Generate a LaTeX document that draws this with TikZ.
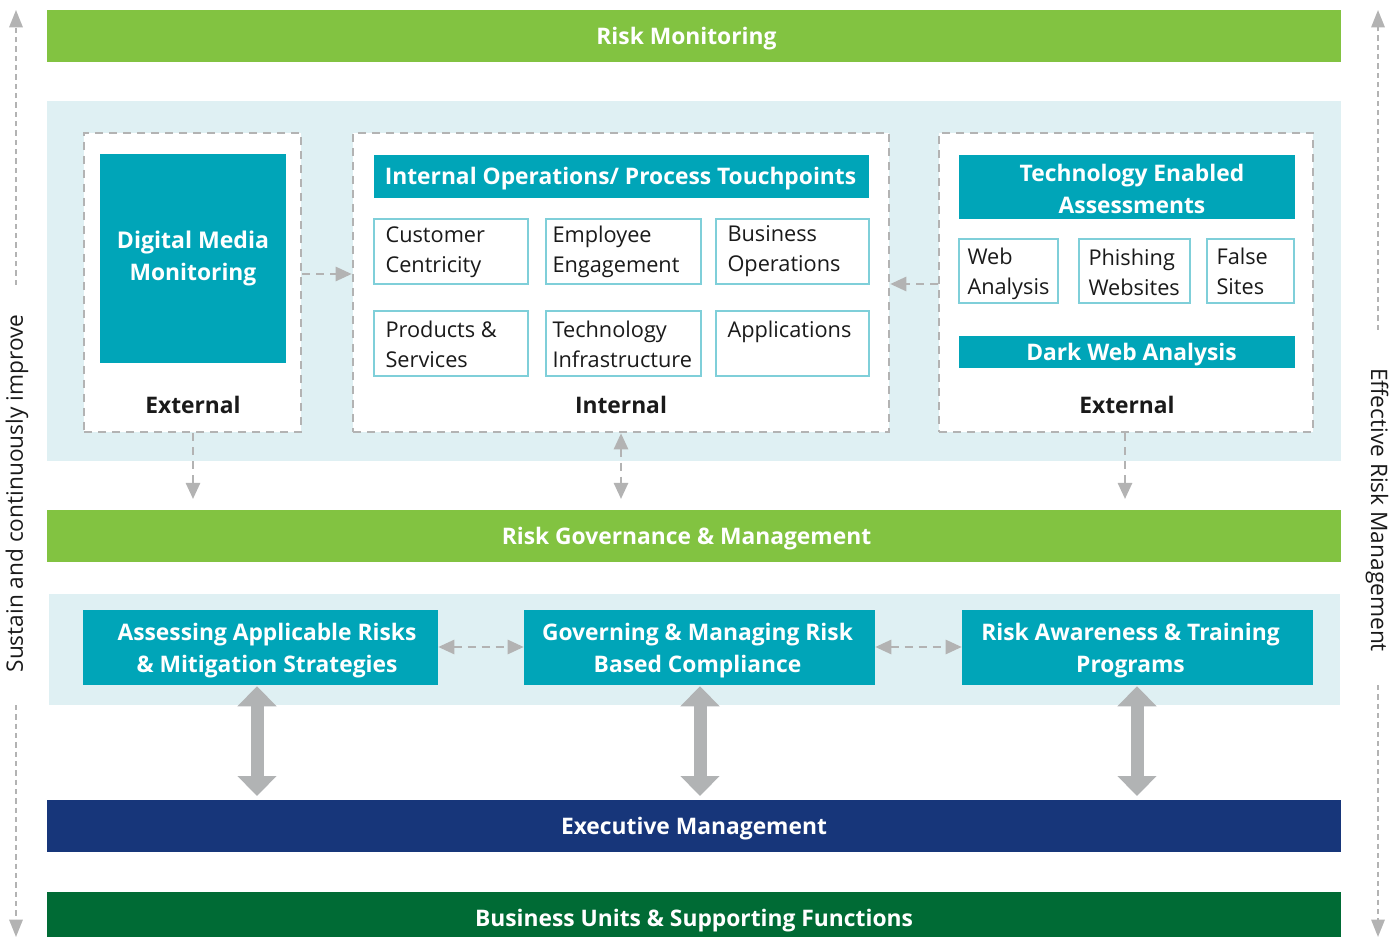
\documentclass[tikz,border=0pt]{standalone}
\usepackage{fontspec}
\setmainfont{Open Sans}
\usetikzlibrary{arrows.meta}
\definecolor{rgreen}{HTML}{82C341}
\definecolor{tealc}{HTML}{00A5B8}
\definecolor{panelc}{HTML}{DFF0F3}
\definecolor{navyc}{HTML}{17367A}
\definecolor{dgreen}{HTML}{006B35}
\definecolor{dgray}{HTML}{B3B3B3}
\definecolor{bgray}{HTML}{B1B3B4}
\definecolor{lteal}{HTML}{7FCFD9}
\definecolor{txt}{HTML}{1A1A1A}
% #1 name, #2-#5 box corners in px, #6 style, #7 text, #8 text offset (dx,dy) in px
\newcommand\mkbox[8]{\node[#6, inner sep=0pt, minimum width={(#4-#2)*0.75pt}, minimum height={(#5-#3)*0.75pt}] (#1) at ({(#2+#4)/2},{(#3+#5)/2}) {};
  \node[#6, fill=none, draw=none, inner sep=0pt] (#1t) at ([shift={#8}]#1.center) {#7};}
\newcommand\hfnt{\fontsize{17.1}{24}\selectfont\bfseries}
\newcommand\nfnt{\fontsize{16.3}{22.5}\selectfont}
\newcommand\sfnt{\fontsize{17}{22.5}\selectfont}
\tikzset{
  stip/.tip={Triangle[length=12pt,width=10.5pt]},
  sidetip/.tip={Triangle[length=13pt,width=10pt]},
  bigtip/.tip={Triangle[length=15pt,width=28.5pt]}
}
\begin{document}
\begin{tikzpicture}[x=0.75pt,y=-0.75pt,
  bar/.style={fill=#1, text=white, font=\hfnt, align=center},
  panel/.style={fill=panelc},
  dbox/.style={draw=dgray, line width=1.9pt, dash pattern=on 6pt off 4.5pt, fill=white},
  tealbox/.style={fill=tealc, text=white, font=\hfnt, align=center},
  sbox/.style={draw=lteal, line width=1.1pt, fill=white},
  lbl/.style={anchor=north west, inner sep=0pt, align=left, font=\nfnt, text=txt},
  captxt/.style={font=\hfnt, text=txt, inner sep=0pt},
  conn/.style={draw=dgray, line width=1.9pt, dash pattern=on 6pt off 4.5pt},
  side/.style={draw=dgray, line width=1.5pt, dash pattern=on 4pt off 3pt},
  big/.style={draw=bgray, line width=9.75pt, bigtip-bigtip}
]
\useasboundingbox (0,0) rectangle (1400,937);

% top bar
\mkbox{rm}{47}{10}{1341}{62}{bar=rgreen}{Risk Monitoring}{(-7.5,2.5)}
% upper panel
\mkbox{p1}{47}{101}{1341}{461}{panel}{}{(0,0)}
\mkbox{d1}{84}{133}{301}{432}{dbox}{}{(0,0)}
\mkbox{d2}{353}{133}{889}{432}{dbox}{}{(0,0)}
\mkbox{d3}{939}{133}{1313}{432}{dbox}{}{(0,0)}

\mkbox{dm}{100}{154}{286}{363}{tealbox}{\fontsize{17.3}{24}\selectfont\bfseries Digital Media\\Monitoring}{(0,0)}
\node[captxt] (ext1) at (193,405) {External};

\mkbox{io}{374}{155}{869}{198}{tealbox}{Internal Operations/ Process Touchpoints}{(-1,2.5)}
\mkbox{c1}{374}{219}{528}{284}{sbox}{}{(0,0)}
\mkbox{c2}{546}{219}{701}{284}{sbox}{}{(0,0)}
\mkbox{c3}{716}{219}{869}{284}{sbox}{}{(0,0)}
\mkbox{c4}{374}{311}{528}{376}{sbox}{}{(0,0)}
\mkbox{c5}{546}{311}{701}{376}{sbox}{}{(0,0)}
\mkbox{c6}{716}{311}{869}{376}{sbox}{}{(0,0)}
\node[lbl] (t1) at ([shift={(12,8)}]c1.north west) {Customer\\Centricity};
\node[lbl] (t2) at ([shift={(7,7)}]c2.north west) {Employee\\Engagement};
\node[lbl] (t3) at ([shift={(12,7)}]c3.north west) {Business\\Operations};
\node[lbl] (t4) at ([shift={(12,10)}]c4.north west) {Products \&\\Services};
\node[lbl] (t5) at ([shift={(7,10)}]c5.north west) {Technology\\Infrastructure};
\node[lbl] (t6) at ([shift={(12,10)}]c6.north west) {Applications};
\node[captxt] (int) at (621,405) {Internal};

\mkbox{te}{959}{155}{1295}{219}{tealbox}{\fontsize{17.1}{22.5}\selectfont\bfseries Technology Enabled\\Assessments}{(5,2)}
\mkbox{w1}{959}{239}{1058}{303}{sbox}{}{(0,0)}
\mkbox{w2}{1079}{239}{1190}{303}{sbox}{}{(0,0)}
\mkbox{w3}{1207}{239}{1294}{303}{sbox}{}{(0,0)}
\node[lbl] (u1) at ([shift={(9,9)}]w1.north west) {Web\\Analysis};
\node[lbl] (u2) at ([shift={(10,10)}]w2.north west) {Phishing\\Websites};
\node[lbl] (u3) at ([shift={(10,9)}]w3.north west) {False\\Sites};
\mkbox{dw}{959}{336}{1295}{368}{tealbox}{Dark Web Analysis}{(4.5,2.5)}
\node[captxt] (ext2) at (1127,405) {External};

% connectors in upper panel
\draw[conn, -stip] (d1.east |- 0,274) -- (d2.west |- 0,274);
\draw[conn, -stip] (d3.west |- 0,284) -- (d2.east |- 0,284);

% governance bar
\mkbox{rg}{47}{510}{1341}{562}{bar=rgreen}{Risk Governance \& Management}{(-7.5,2.5)}
\draw[conn, -stip] (d1.south -| 193,0) -- (193,499);
\draw[conn, stip-stip] (d2.south -| 621,0) -- (621,499);
\draw[conn, -stip] (d3.south -| 1125,0) -- (1125,499);

% lower panel
\mkbox{p2}{49}{594}{1340}{705}{panel}{}{(0,0)}
\mkbox{as}{83}{610}{438}{685}{tealbox}{Assessing Applicable Risks\\\& Mitigation Strategies}{(6.5,3)}
\mkbox{gv}{524}{610}{875}{685}{tealbox}{Governing \& Managing Risk\\Based Compliance}{(-2,3)}
\mkbox{ra}{962}{610}{1313}{685}{tealbox}{Risk Awareness \& Training\\Programs}{(-7,3)}
\draw[conn, stip-stip] (as.east |- 0,647) -- (gv.west |- 0,647);
\draw[conn, stip-stip] (gv.east |- 0,647) -- (ra.west |- 0,647);

% executive and business bars
\mkbox{ex}{47}{800}{1341}{852}{bar=navyc}{Executive Management}{(0,2.5)}
\mkbox{bu}{47}{892}{1341}{944}{bar=dgreen}{Business Units \& Supporting Functions}{(0,2.5)}

\draw[big] (as.south -| 257,0) ++(0,1) -- (257,796);
\draw[big] (gv.south -| 700,0) ++(0,1) -- (700,796);
\draw[big] (ra.south -| 1137,0) ++(0,1) -- (1137,796);

% side arrows
\node[rotate=90, font=\sfnt, text=txt, inner sep=0pt] (sl) at (17,493.5) {Sustain and continuously improve};
\node[rotate=-90, font=\sfnt, text=txt, inner sep=0pt] (sr) at (1377,510) {Effective Risk Management};
\coordinate (lt) at (16,10);
\coordinate (la) at (16,285);
\coordinate (lb) at (16,705);
\coordinate (lz) at (16,937);
\coordinate (rt) at (1378,10);
\coordinate (ra1) at (1378,330);
\coordinate (rb) at (1378,685);
\coordinate (rz) at (1378,937);
\draw[side, -sidetip] (la) -- (lt);
\draw[side, -sidetip] (lb) -- (lz);
\draw[side, -sidetip] (ra1) -- (rt);
\draw[side, -sidetip] (rb) -- (rz);
\end{tikzpicture}
\end{document}
